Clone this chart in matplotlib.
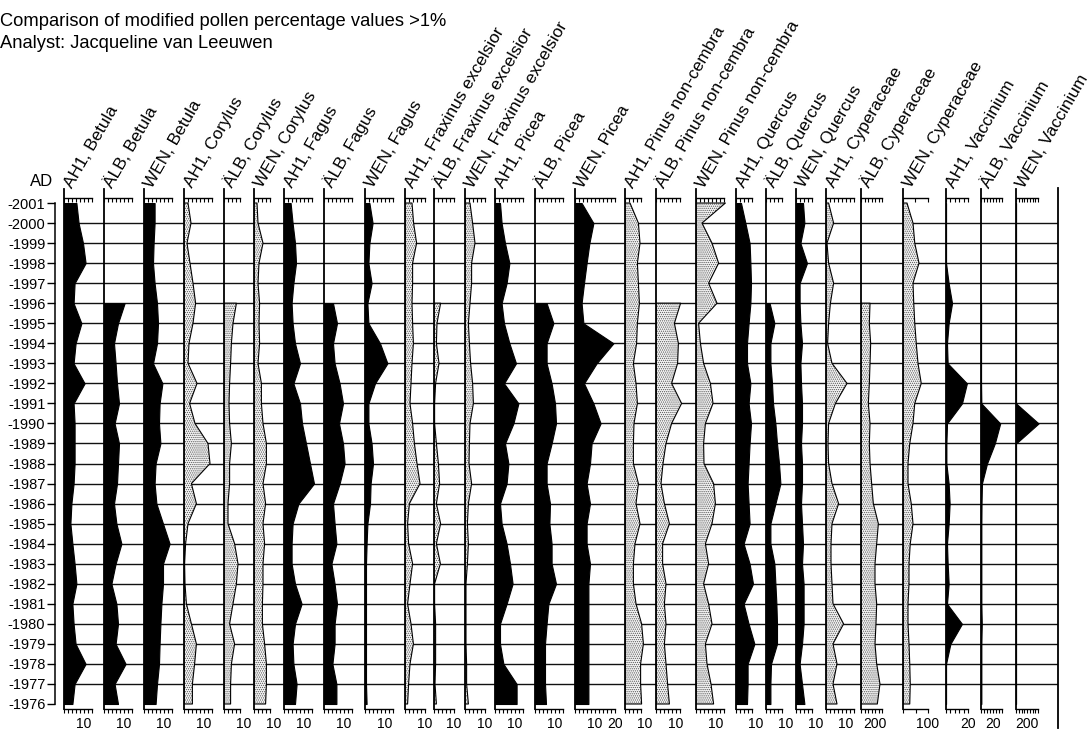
import numpy as np
import matplotlib
matplotlib.use("Agg")
import matplotlib.pyplot as plt
from matplotlib.lines import Line2D

plt.rcParams['font.family'] = ['Liberation Sans', 'DejaVu Sans']
plt.rcParams['hatch.linewidth'] = 0.6

NA = np.nan
years = np.arange(2001, 1975, -1)   # 2001 ... 1976

# --- pollen values, 2001 -> 1976 (ÄLB starts in 1996) ---
ah1_betula = [6.2, 7.3, 9.5, 10.8, 5.3, 4.8, 8.7, 5.8, 4.8, 10.3, 4.8, 5.3, 5.3,
              5.3, 4.8, 3.7, 3.2, 4.2, 5.3, 6.2, 4.2, 4.8, 5.8, 10.8, 5.3, 4.2]
alb_betula = [NA] * 5 + [10.3, 7, 5, 5.8, 6.5, 7.5, 5.3, 7.5, 7, 6.5, 5, 6.2, 8.7,
                         5.8, 3.7, 6.2, 7, 5.8, 10.8, 5.3, 7]
wen_betula = [5.3, 5.3, 4.8, 4.5, 5.3, 6.5, 7, 6.5, 4.5, 9.2, 7.8, 7.5, 8.2,
              5.8, 5.3, 6.2, 9.5, 12.8, 9.5, 9.5, 8.7, 8.2, 7.8, 7.5, 6.5, 5.8]
ah1_corylus = [2, 3.5, 1.5, 3, 4.5, 5.8, 4.5, 2.5, 2, 6.5, 2.8, 5.5, 12,
               13, 3.7, 6.2, 2, 0.8, 0.3, 0.5, 1.2, 3.7, 6.2, 5.3, 4.2, 4.2]
alb_corylus = [NA] * 5 + [6.2, 4.5, 3.7, 3.3, 2.8, 2.5, 2.8, 3.7, 2.8, 2.8, 2, 2, 5.3,
                          7, 6.2, 4.5, 2.8, 5.3, 3.7, 3.3, 3.3]
wen_corylus = [1.5, 2, 4.5, 2.5, 2, 2.8, 2.5, 2.8, 2, 3.7, 3.7, 4.5, 6.2,
               6.2, 4.5, 5.8, 4.5, 5.3, 4.5, 4.5, 4.2, 4.2, 5.3, 6.2, 6.2, 5.8]
ah1_fagus = [3.3, 4.3, 5.5, 6, 4.7, 3.8, 4.3, 5.5, 8, 4.7, 8, 9, 11,
             13, 15, 7.2, 4.3, 3.8, 3.8, 5.5, 8.8, 5.5, 4.3, 4.7, 6.3, 5.5]
alb_fagus = [NA] * 5 + [4.5, 6.5, 4.5, 5.3, 7.8, 9.5, 7.5, 9.5, 10.3, 7.8, 4.5, 5.3, 6.2,
                        3.7, 5.3, 6.5, 5.3, 5.3, 4.2, 6.2, 6.2]
wen_fagus = [2.2, 3.8, 2.2, 1.7, 3.3, 1.2, 1.7, 7.5, 11.2, 5, 1.7, 1.7, 3.3,
             4, 2.8, 2.5, 1.2, 0.8, 0.5, 0.5, 0.5, 0.5, 0.5, 0.5, 0.5, 0.8]
ah1_fraxinus = [3.5, 4.3, 5.8, 3.8, 3.8, 3.5, 3.8, 4.2, 3.5, 3, 2.5, 3.8, 4.7,
                6, 7.5, 2.2, 1.3, 1.8, 3.8, 2.5, 1.3, 3, 4.2, 2.5, 1.8, 1.3]
alb_fraxinus = [NA] * 5 + [3.3, 1.5, 1.2, 2.5, 0.8, 0.3, 0.3, 1.2, 2.2, 2.8, 1.2, 3.3, 1.2,
                           3.2, 0.3, 0.3, 0.8, 0.8, 0.8, 0.5, 1.2]
wen_fraxinus = [2.5, 3.8, 5, 3.3, 3.3, 2.5, 1.7, 2.2, 2.8, 3.8, 4.2, 2.5, 2.2,
                2, 3.3, 1.7, 1.2, 1.7, 1.2, 0.5, 0.5, 0.5, 0.5, 0.8, 0.8, 1.7]
ah1_picea = [2.5, 3.3, 5, 7.2, 5.8, 3.3, 4.5, 7.2, 10.5, 4.5, 11.7, 9.2, 5,
             6.7, 5.8, 2.5, 3.3, 5.8, 7.5, 8.8, 5.8, 2.5, 2.5, 4.2, 10.8, 10.8]
alb_picea = [NA] * 5 + [5.8, 9.2, 5.8, 5.8, 8.3, 10, 10.5, 8.3, 5.8, 5.8, 7.5, 7.2, 8.3,
                        8.3, 10.5, 6.7, 5.8, 5, 5, 5, 5.5]
wen_picea = [3.3, 9.2, 7.2, 5.8, 4.5, 3.3, 4.2, 19.2, 10.8, 4.5, 9.2, 12.8, 8.3,
             7.5, 5.8, 7.5, 5.8, 5.8, 7.5, 6.7, 6.7, 6.7, 6.7, 6.7, 6.7, 6.7]
ah1_pinus = [2.5, 6.7, 7.5, 6.2, 6.7, 7.2, 6.2, 5.8, 4.2, 5.5, 6.2, 4.5, 4.2,
             4.2, 6.7, 5.5, 7.5, 5, 4.2, 4.2, 5.5, 8.3, 9.2, 7.8, 7.8, 8.3]
alb_pinus = [NA] * 5 + [12.3, 9.2, 11.2, 10.8, 7.8, 12.8, 7.8, 5, 3.5, 2.5, 4.2, 6.7, 3.3,
                        3.3, 5, 4.2, 5, 4.2, 5, 5.8, 6.7]
wen_pinus = [14.7, 3, 8, 11.3, 6.3, 10.5, 1.3, 2.2, 3.8, 7.2, 8.5, 4.7, 3.8,
             4, 8.8, 9.7, 8, 4.7, 6.3, 3.8, 6.3, 8, 4.7, 5.5, 7.5, 8.8]
ah1_quercus = [2.5, 4.7, 6.8, 7.2, 7.5, 7.2, 6.3, 5.5, 5.5, 7.2, 6.3, 7.5, 6.8,
               6.3, 5.8, 6.3, 6.8, 3.8, 6.8, 8.5, 3.8, 6.3, 9.2, 5.8, 5.8, 5.5]
alb_quercus = [NA] * 5 + [1.8, 4.2, 2.2, 2.2, 3, 3.5, 4.7, 5.5, 6.5, 7.2, 4.7, 2.2, 2.2,
                          4.2, 4.7, 5.2, 5.5, 5.5, 2.5, 2.2, 2.2]
wen_quercus = [3.5, 4.2, 2.2, 5.5, 1.8, 1.8, 2.2, 3, 2.2, 2.5, 3, 3, 2.5,
               3, 3, 2.5, 3, 3.5, 3, 3.8, 3.8, 3.8, 3, 1.8, 3, 4.2]
ah1_cyperaceae = [1.3, 3.8, 0.5, 1.3, 3.8, 2.2, 1.3, 0.8, 3, 10.5, 4.7, 1.3, 1,
                  1.3, 3, 6.3, 3, 2.5, 2.5, 3, 3.5, 8.8, 3.5, 5.5, 3.5, 5.5]
alb_cyperaceae = [NA] * 5 + [129, 119, 138, 129, 119, 105, 129, 119, 129, 152, 176, 248, 224,
                             200, 200, 224, 214, 200, 224, 271, 233]
wen_cyperaceae = [16, 40, 47, 64, 40, 43, 47, 53, 60, 73, 47, 40, 27,
                  20, 20, 33, 40, 29, 24, 24, 20, 20, 24, 27, 29, 27]
ah1_vaccinium = [0, 0, 0, 0, 2.4, 5.5, 2.4, 0.9, 1.5, 19, 14.5, 0.9, 0.3,
                 0.3, 2.4, 3.3, 2.4, 0.9, 1.5, 2.4, 0.9, 14.5, 4, 0, 0, 0]
alb_vaccinium = [NA] * 5 + [0, 0, 0, 0, 0, 0.5, 32, 23, 10, 1.5, 0.8, 0.5, 0.5,
                            0.5, 0.5, 0.5, 1.2, 0.5, 0.5, 0.5, 0.5]
wen_vaccinium = [0] * 11 + [410] + [0] * 14

names = ["AH1, Betula", "ÄLB, Betula", "WEN, Betula",
         "AH1, Corylus", "ÄLB, Corylus", "WEN, Corylus",
         "AH1, Fagus", "ÄLB, Fagus", "WEN, Fagus",
         "AH1, Fraxinus excelsior", "ÄLB, Fraxinus excelsior", "WEN, Fraxinus excelsior",
         "AH1, Picea", "ÄLB, Picea", "WEN, Picea",
         "AH1, Pinus non-cembra", "ÄLB, Pinus non-cembra", "WEN, Pinus non-cembra",
         "AH1, Quercus", "ÄLB, Quercus", "WEN, Quercus",
         "AH1, Cyperaceae", "ÄLB, Cyperaceae", "WEN, Cyperaceae",
         "AH1, Vaccinium", "ÄLB, Vaccinium", "WEN, Vaccinium"]
series = [ah1_betula, alb_betula, wen_betula,
          ah1_corylus, alb_corylus, wen_corylus,
          ah1_fagus, alb_fagus, wen_fagus,
          ah1_fraxinus, alb_fraxinus, wen_fraxinus,
          ah1_picea, alb_picea, wen_picea,
          ah1_pinus, alb_pinus, wen_pinus,
          ah1_quercus, alb_quercus, wen_quercus,
          ah1_cyperaceae, alb_cyperaceae, wen_cyperaceae,
          ah1_vaccinium, alb_vaccinium, wen_vaccinium]
scale_labels = [[10]] * 15
scale_labels[14] = [10, 20]
scale_labels += [[10]] * 7 + [[200], [100], [20], [20], [200]]

# --- layout (pixels) ---
edges = [64, 104, 144, 184, 224, 254, 284, 324, 365, 405, 434, 465, 495, 535,
         575, 625, 656, 696, 736, 766, 796, 826, 861, 903, 946, 981, 1016, 1058]
px_per_unit = [2.0] * 22 + [0.07, 0.25, 1.1, 0.6, 0.055]
ruler = [(14, 2)] * 4 + [(8, 2)] * 2 + [(14, 2)] * 3 + [(10, 2)] * 3 + [(14, 2)] * 2 \
    + [(20, 2), (8, 2), (12, 2), (14, 2), (8, 2), (8, 2), (8, 2), (14, 2),
       (300, 50), (100, 50), (20, 4), (35, 5), (400, 50)]
dotted = {3, 4, 5, 9, 10, 11, 15, 16, 17, 21, 22, 23}

W, H = 1092, 731
top_px, bot_px, ruler_px = 189, 709, 198
y_lo = 1976 - (bot_px - 704) / 20
y_hi = 2001 + (203 - top_px) / 20


def fx(x):
    return x / W


def fy(y):
    return 1 - y / H


fig = plt.figure(figsize=(W / 100, H / 100), dpi=100)

for i, name in enumerate(names):
    x0, x1 = edges[i], edges[i + 1]
    ax = fig.add_axes([fx(x0), fy(bot_px), (x1 - x0) / W, (bot_px - top_px) / H])
    ax.patch.set_alpha(0)
    ax.set_xlim(0, (x1 - x0) / px_per_unit[i])
    ax.set_ylim(y_lo, y_hi)
    for yr in range(1977, 2001):
        ax.axhline(yr, color='#111111', lw=1.0, zorder=1)

    vals = np.array(series[i], dtype=float)
    ok = ~np.isnan(vals)
    if i in dotted:
        ax.fill_betweenx(years[ok], 0, vals[ok], facecolor='#f4f4f4', edgecolor='#555555',
                         hatch='........', lw=0, zorder=2)
        ax.fill_betweenx(years[ok], 0, vals[ok], facecolor='none', edgecolor='black',
                         lw=0.8, zorder=3)
    else:
        ax.fill_betweenx(years[ok], 0, vals[ok], facecolor='black', edgecolor='black',
                         lw=0.8, zorder=3)

    for s in ('top', 'right'):
        ax.spines[s].set_visible(False)
    ax.spines['left'].set_linewidth(1.3)
    rmax, step = ruler[i]
    ticks = np.arange(0, rmax + step / 2, step)
    ax.spines['bottom'].set_bounds(0, rmax)
    ax.spines['bottom'].set_linewidth(1.0)
    ax.set_yticks([])
    ax.xaxis.remove_overlapping_locs = False
    ax.set_xticks(ticks, minor=True)
    ax.set_xticks(scale_labels[i], [str(v) for v in scale_labels[i]])
    ax.tick_params(axis='x', which='minor', direction='out', length=3, width=0.8)
    ax.tick_params(axis='x', which='major', length=0, pad=6, labelsize=10)

    top = ax.secondary_xaxis((bot_px - ruler_px) / (bot_px - top_px))
    top.spines['top'].set_bounds(0, rmax)
    top.spines['top'].set_linewidth(1.0)
    top.set_xticks(ticks, [''] * len(ticks))
    top.tick_params(axis='x', direction='in', length=3, width=0.8)

    fig.text(fx(x0 + 8), fy(189), name, rotation=60, rotation_mode='anchor',
             ha='left', va='baseline', fontsize=12.4)

# year axis
ay = fig.add_axes([fx(55), fy(bot_px), 1 / W, (bot_px - top_px) / H])
ay.patch.set_alpha(0)
ay.set_ylim(y_lo, y_hi)
for s in ('top', 'right', 'bottom'):
    ay.spines[s].set_visible(False)
ay.spines['left'].set_bounds(1976, 2001)
ay.spines['left'].set_linewidth(1.1)
ay.set_xticks([])
ay.set_yticks(years, [f"-{y}" for y in years])
ay.tick_params(axis='y', length=6, width=1.0, labelsize=10.5, pad=1)

fig.text(fx(53), fy(182), "AD", ha='right', va='center', fontsize=12)
fig.text(fx(0), fy(22), "Comparison of modified pollen percentage values >1%",
         ha='left', va='center', fontsize=13.2)
fig.text(fx(0), fy(44), "Analyst: Jacqueline van Leeuwen",
         ha='left', va='center', fontsize=13.2)
fig.add_artist(Line2D([fx(1058), fx(1058)], [fy(188), fy(728)], color='black', lw=1.3))

fig.savefig("out.png", dpi=100)
